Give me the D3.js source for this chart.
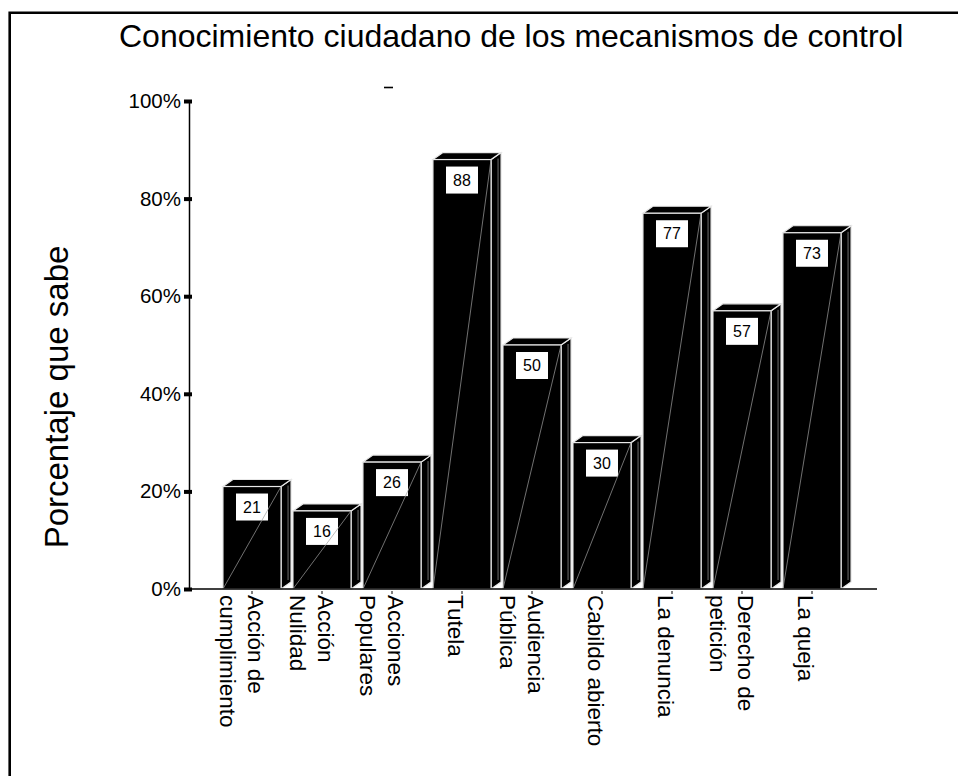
<!DOCTYPE html>
<html>
<head>
<meta charset="utf-8">
<script src="https://cdn.jsdelivr.net/npm/d3@7"></script>
<style>
  html, body { margin: 0; padding: 0; background: #fff; }
  svg { display: block; font-family: "Liberation Sans", Arial, sans-serif; }
</style>
</head>
<body>
<svg id="chart" width="958" height="776"></svg>
<script>
// ---- data ----
const titleText = "Conocimiento ciudadano de los mecanismos de control";
const yAxisTitle = "Porcentaje que sabe";
const categories = [
  "Acción de\ncumplimiento",
  "Acción\nNulidad",
  "Acciones\nPopulares",
  "Tutela",
  "Audiencia\nPública",
  "Cabildo abierto",
  "La denuncia",
  "Derecho de\npetición",
  "La queja"
];
const values = [21, 16, 26, 88, 50, 30, 77, 57, 73];
const yTicks = [0, 20, 40, 60, 80, 100];
const yTickLabels = ["0%", "20%", "40%", "60%", "80%", "100%"];

// ---- layout ----
const svg = d3.select("#chart");
const W = 958, H = 776;
const axisX = 189, axisY = 589, axisRight = 877;
const depthX = 10, depthY = 7;

const y = d3.scaleLinear().domain([0, 100]).range([589, 101]);
const x = d3.scaleBand().domain(categories).range([217, 847]).paddingInner(0.17).paddingOuter(0.085);

// frame (top and left border)
svg.append("path")
  .attr("d", `M9.7,${H} L9.7,12.8 L${W},12.8`)
  .attr("fill", "none").attr("stroke", "#000").attr("stroke-width", 2.6);

// title
svg.append("text")
  .attr("x", 119).attr("y", 47)
  .attr("font-size", 32)
  .attr("fill", "#000")
  .text(titleText);

// small stray mark under title
svg.append("line")
  .attr("x1", 384).attr("x2", 393).attr("y1", 87.5).attr("y2", 87.5)
  .attr("stroke", "#000").attr("stroke-width", 1.6);

// y axis title
svg.append("text")
  .attr("transform", `translate(68,${397}) rotate(-90)`)
  .attr("text-anchor", "middle")
  .attr("font-size", 33)
  .attr("fill", "#000")
  .text(yAxisTitle);

// y axis
const yAxis = d3.axisLeft(y).tickValues(yTicks).tickSize(0).tickFormat((d, i) => yTickLabels[i]);
const gy = svg.append("g").attr("transform", `translate(${axisX},0)`).call(yAxis);
gy.select(".domain").attr("stroke", "#000").attr("stroke-width", 1.5);
gy.selectAll(".tick text")
  .attr("x", -8)
  .attr("font-size", 20.5)
  .attr("font-family", "Liberation Sans, Arial, sans-serif")
  .attr("fill", "#000");
gy.selectAll(".tick").append("line")
  .attr("x1", -5).attr("x2", 3)
  .attr("stroke", "#000").attr("stroke-width", 4);

// bars
const g = svg.append("g");
const bars = g.selectAll("g.bar").data(values).enter().append("g").attr("class", "bar");
bars.each(function(v, i) {
  const sel = d3.select(this);
  const x0 = x(categories[i]), bw = x.bandwidth();
  const x1 = x0 + bw;
  const yt = y(v), yb = y(0);
  // side face
  sel.append("path")
    .attr("d", `M${x1},${yb} L${x1 + depthX},${yb - depthY} L${x1 + depthX},${yt - depthY} L${x1},${yt} Z`)
    .attr("fill", "#000").attr("stroke", "#e8e8e8").attr("stroke-width", 1.2);
  sel.append("line")
    .attr("x1", x1 + depthX - 3).attr("y1", yt - depthY + 6)
    .attr("x2", x1 + depthX - 3).attr("y2", yb - depthY - 2)
    .attr("stroke", "#bbb").attr("stroke-width", 0.6);
  // top face
  sel.append("path")
    .attr("d", `M${x0},${yt} L${x0 + depthX},${yt - depthY} L${x1 + depthX},${yt - depthY} L${x1},${yt} Z`)
    .attr("fill", "#000").attr("stroke", "#e8e8e8").attr("stroke-width", 1.2);
  // front face
  sel.append("rect")
    .attr("x", x0).attr("y", yt).attr("width", bw).attr("height", yb - yt)
    .attr("fill", "#000").attr("stroke", "#e8e8e8").attr("stroke-width", 1.2);
  // value box
  const bxw = 32, bxh = 27;
  const cx = x0 + bw / 2;
  sel.append("rect")
    .attr("x", cx - bxw / 2).attr("y", yt + 7).attr("width", bxw).attr("height", bxh)
    .attr("fill", "#fff");
  sel.append("text")
    .attr("x", cx).attr("y", yt + 7 + bxh / 2)
    .attr("text-anchor", "middle").attr("dominant-baseline", "central")
    .attr("font-size", 16).attr("fill", "#000")
    .text(v);
  // diagonal highlight across front face
  sel.append("line")
    .attr("x1", x0).attr("y1", yb).attr("x2", x1).attr("y2", yt)
    .attr("stroke", "#a0a0a0").attr("stroke-width", 0.7);
});

// x axis line
svg.append("line")
  .attr("x1", axisX - 1).attr("x2", axisRight).attr("y1", axisY).attr("y2", axisY)
  .attr("stroke", "#000").attr("stroke-width", 1.5);

// x tick marks
svg.selectAll("line.xtick").data(categories).enter().append("line")
  .attr("class", "xtick")
  .attr("x1", d => x(d) + x.bandwidth() / 2).attr("x2", d => x(d) + x.bandwidth() / 2)
  .attr("y1", axisY + 2).attr("y2", axisY + 5)
  .attr("stroke", "#000").attr("stroke-width", 1);

// x labels (rotated, reading downward)
const pitch = 28;
const lab = svg.selectAll("g.xlab").data(categories).enter().append("g")
  .attr("class", "xlab")
  .attr("transform", d => {
    const n = d.split("\n").length;
    const b = x(d) + x.bandwidth() / 2 - 14 + (n - 1) * 10;
    return `translate(${b},${axisY + 6}) rotate(90)`;
  });
lab.each(function(d) {
  const lines = d.split("\n");
  const t = d3.select(this).append("text")
    .attr("font-size", 22.5).attr("fill", "#000");
  lines.forEach((ln, k) => {
    t.append("tspan").attr("x", 0).attr("y", k * pitch).text(ln);
  });
});
</script>
</body>
</html>
